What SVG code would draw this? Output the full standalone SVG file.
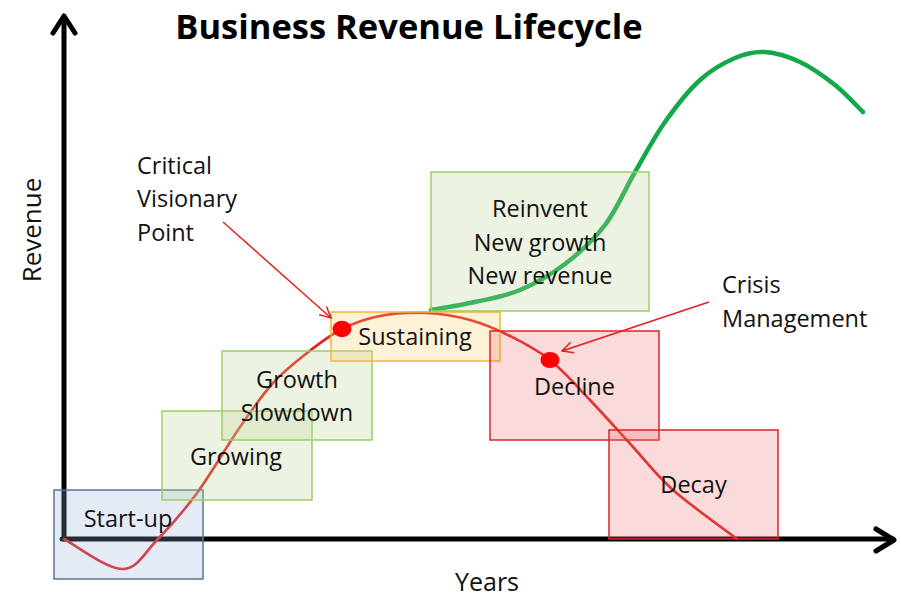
<svg xmlns="http://www.w3.org/2000/svg" width="901" height="598" viewBox="0 0 901 598">
<defs>
<style>
.t{font-family:"Open Sans","Noto Sans",sans-serif;font-size:23.5px;fill:#111;}
.c{text-anchor:middle;}
.title{font-family:"Open Sans","Noto Sans",sans-serif;font-size:34.5px;font-weight:bold;fill:#000;text-anchor:middle;}
.axis{stroke:#000;stroke-width:5;fill:none;stroke-linecap:round;stroke-linejoin:round;}
.blue{fill:#93afd7;fill-opacity:0.25;stroke:#5a7498;stroke-width:1.5;}
.green{fill:#bbd393;fill-opacity:0.27;stroke:#9bcf63;stroke-width:1.5;}
.yellow{fill:#f7cb5f;fill-opacity:0.25;stroke:#f2b530;stroke-width:1.5;}
.red{fill:#eb6b6b;fill-opacity:0.25;stroke:#d8262a;stroke-width:1.5;}
.redline{fill:none;stroke:#e3211f;stroke-width:2.6;stroke-linecap:round;}
.greenline{fill:none;stroke:#13a84a;stroke-width:4.5;stroke-linecap:round;}
.ann{fill:none;stroke:#e3211f;stroke-width:1.5;marker-end:url(#open);}
.dot{fill:#ff0000;}
</style>
<marker id="open" viewBox="0 0 14 14" refX="13" refY="7" markerWidth="14" markerHeight="14" markerUnits="userSpaceOnUse" orient="auto">
<path d="M2,1.5 L13,7 L2,12.5" fill="none" stroke="#e3211f" stroke-width="1.5"/>
</marker>
</defs>
<rect width="901" height="598" fill="#fff"/>
<text id="title" class="title" x="409" y="39">Business Revenue Lifecycle</text>
<g id="axes">
<path class="axis" d="M64,539 L64,17"/>
<path class="axis" d="M53,33 L64,16 L75,33"/>
<path class="axis" d="M62,539 L893,539"/>
<path class="axis" d="M876,529 L894,540 L876,551"/>
<text class="t c" x="487" y="591" style="font-size:25px">Years</text>
<text class="t c" transform="translate(41,230) rotate(-90)" style="font-size:26px">Revenue</text>
</g>
<g id="connectors">
<path id="lifecycle-curve" class="redline" d="M64,539 C73.7,544 106.5,568.8 122,569 C137.5,569.2 144.5,552.7 157,540 C169.5,527.3 183.2,511.8 197,493 C210.8,474.2 227.3,445.3 240,427 C252.7,408.7 261.8,395.3 273,383 C284.2,370.7 295.5,362 307,353 C318.5,344 329.8,335.2 342,329 C354.2,322.8 365.8,318.7 380,316 C394.2,313.3 412,312.3 427,313 C442,313.7 456.2,316.2 470,320 C483.8,323.8 496.7,329.3 510,336 C523.3,342.7 536.7,349.3 550,360 C563.3,370.7 576.2,385.5 590,400 C603.8,414.5 619.2,432 633,447 C646.8,462 655.7,474.7 673,490 C690.3,505.3 726.3,530.8 737,539"/>
<path id="reinvent-curve" class="greenline" d="M431,310 C438.3,308.7 460.2,305.3 475,302 C489.8,298.7 505,296.3 520,290 C535,283.7 550.8,274.8 565,264 C579.2,253.2 593.3,240.3 605,225 C616.7,209.7 625,189.2 635,172 C645,154.8 654.2,137.3 665,122 C675.8,106.7 688.3,90.7 700,80 C711.7,69.3 724.2,62.7 735,58 C745.8,53.3 754.2,51.3 765,52 C775.8,52.7 788.3,56.5 800,62 C811.7,67.5 824.5,76.7 835,85 C845.5,93.3 858.3,107.5 863,112"/>
</g>
<g id="startup"><rect class="blue" x="54" y="490" width="149" height="89"/><text class="t c" x="128" y="527">Start-up</text></g>
<g id="growing"><rect class="green" x="162" y="411" width="150" height="89"/><text class="t c" x="236" y="465">Growing</text></g>
<g id="growth-slowdown"><rect class="green" x="222" y="351" width="150" height="89"/><text class="t c" x="297" y="388">Growth</text><text class="t c" x="297" y="421">Slowdown</text></g>
<g id="sustaining"><rect class="yellow" x="331" y="312" width="169" height="49"/><text class="t c" x="415" y="345">Sustaining</text></g>
<g id="reinvent"><rect class="green" x="431" y="172" width="218" height="139"/><text class="t c" x="540" y="217">Reinvent</text><text class="t c" x="540" y="251">New growth</text><text class="t c" x="540" y="284">New revenue</text></g>
<g id="decline"><rect class="red" x="490" y="331" width="169" height="109"/><text class="t c" x="574.5" y="395">Decline</text></g>
<g id="decay"><rect class="red" x="609" y="430" width="169" height="109"/><text class="t c" x="693.5" y="493">Decay</text></g>
<g id="points">
<ellipse class="dot" cx="342" cy="329" rx="9.5" ry="8.2"/>
<ellipse class="dot" cx="550" cy="360" rx="9.5" ry="8"/>
</g>
<g id="annotations">
<path class="ann" d="M223,222 L331,318"/>
<path class="ann" d="M709,302 L562,351"/>
</g>
<g id="critical-label"><text class="t" x="137" y="174">Critical</text><text class="t" x="137" y="207">Visionary</text><text class="t" x="137" y="241">Point</text></g>
<g id="crisis-label"><text class="t" x="722" y="293">Crisis</text><text class="t" x="722" y="327">Management</text></g>
</svg>
